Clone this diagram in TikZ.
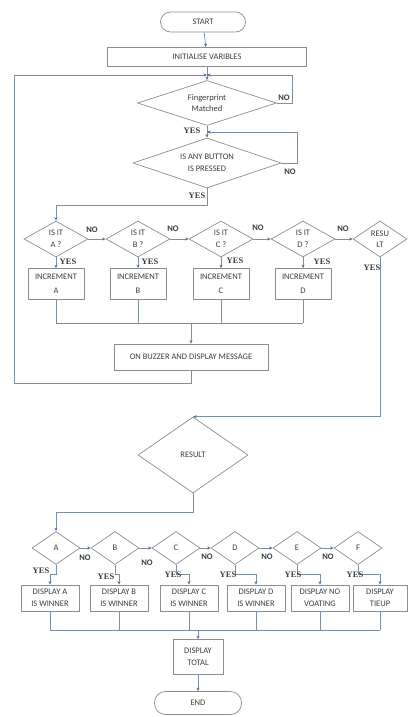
\documentclass[tikz,border=0pt]{standalone}
\usepackage{fontspec}
\setmainfont{Carlito}
\newfontfamily\yesfont{Liberation Serif}
\usetikzlibrary{shapes.geometric, arrows.meta, positioning, calc}
\definecolor{edgegray}{HTML}{8E8E8E}
\definecolor{linkblue}{HTML}{7F8FA2}
\definecolor{tipblue}{HTML}{4A6FA5}
\definecolor{txtgray}{HTML}{3C3C3C}

\begin{document}
\begin{tikzpicture}[x=1pt, y=-1pt,
  every node/.style={text=txtgray, font=\fontsize{8.5}{11.5}\selectfont},
  startstop/.style={draw=edgegray, line width=0.7pt, rounded corners=10pt, inner sep=0pt},
  process/.style={draw=edgegray, line width=0.7pt, align=center, inner sep=0pt},
  decision/.style={diamond, draw=edgegray, line width=0.7pt, aspect=2, inner sep=0pt, align=center},
  link/.style={draw=linkblue, line width=0.7pt},
  arr/.style={link, -{Stealth[length=3.5pt, width=3pt, color=tipblue]}},
  yeslbl/.style={font=\yesfont\bfseries\fontsize{8.5}{10}\selectfont, inner sep=0pt},
  nolbl/.style={font=\bfseries\fontsize{8.5}{10}\selectfont, inner sep=0pt}
]
\useasboundingbox (0,0) rectangle (407,717);

% voting part
\node[startstop, minimum width=85pt, minimum height=20pt] (start) at (203,22) {START};
\node[process, minimum width=199pt, minimum height=19pt] (init) at (207,57) {INITIALISE VARIBLES};
\coordinate (j1) at (207,75);
\node[decision, minimum width=139pt, minimum height=45pt] (finger) at (207,103) {Fingerprint\\Matched};
\coordinate (j2) at (207,132);
\node[decision, minimum width=148pt, minimum height=50pt] (button) at (207,163) {IS ANY BUTTON\\IS PRESSED};

\node[decision, minimum width=64pt, minimum height=36pt] (isA) at (56,239) {IS IT\\A ?};
\node[decision, minimum width=64pt, minimum height=36pt] (isB) at (138,239) {IS IT\\B ?};
\node[decision, minimum width=64pt, minimum height=36pt] (isC) at (221,239) {IS IT\\C ?};
\node[decision, minimum width=64pt, minimum height=36pt] (isD) at (303,239) {IS IT\\D ?};
\node[decision, minimum width=54pt, minimum height=36pt] (resu) at (380,239) {RESU\\LT};

\node[process, minimum width=56pt, minimum height=31pt, font=\fontsize{8.5}{14}\selectfont] (incA) at (56,284) {INCREMENT\\A};
\node[process, minimum width=56pt, minimum height=31pt, font=\fontsize{8.5}{14}\selectfont] (incB) at (138,284) {INCREMENT\\B};
\node[process, minimum width=56pt, minimum height=31pt, font=\fontsize{8.5}{14}\selectfont] (incC) at (221,284) {INCREMENT\\C};
\node[process, minimum width=56pt, minimum height=31pt, font=\fontsize{8.5}{14}\selectfont] (incD) at (303,284) {INCREMENT\\D};
\coordinate (bus1) at (0,323);
\node[process, minimum width=154pt, minimum height=26pt] (buzzer) at (191,357) {ON BUZZER AND DISPLAY MESSAGE};
\coordinate (loopL) at (14,383);

% result part
\node[decision, minimum width=110pt, minimum height=76pt] (result) at (193,455) {RESULT};

\node[decision, minimum width=48pt, minimum height=33pt] (dA) at (56,548) {A};
\node[decision, minimum width=48pt, minimum height=33pt] (dB) at (115,548) {B};
\node[decision, minimum width=48pt, minimum height=33pt] (dC) at (176,548) {C};
\node[decision, minimum width=48pt, minimum height=33pt] (dD) at (235,548) {D};
\node[decision, minimum width=48pt, minimum height=33pt] (dE) at (297,548) {E};
\node[decision, minimum width=48pt, minimum height=33pt] (dF) at (358,548) {F};

\node[process, minimum width=58pt, minimum height=26pt] (winA) at (50,598) {DISPLAY A\\IS WINNER};
\node[process, minimum width=58pt, minimum height=26pt] (winB) at (119,598) {DISPLAY B\\IS WINNER};
\node[process, minimum width=58pt, minimum height=26pt] (winC) at (189,598) {DISPLAY C\\IS WINNER};
\node[process, minimum width=58pt, minimum height=26pt] (winD) at (256,598) {DISPLAY D\\IS WINNER};
\node[process, minimum width=58pt, minimum height=26pt] (winE) at (320,598) {DISPLAY NO\\VOATING};
\node[process, minimum width=54pt, minimum height=26pt] (winF) at (380,598) {DISPLAY\\TIEUP};
\coordinate (bus2) at (0,630);
\node[process, minimum width=50pt, minimum height=35pt] (total) at (198,657) {DISPLAY\\TOTAL};
\node[startstop, minimum width=87pt, minimum height=23pt, rounded corners=11pt] (theend) at (198,703) {END};

% connectors, top
\draw[arr] (start) -- (init);
\draw[arr] (init) -- (finger);
\draw[arr] (finger.east) -- ++(15,0) |- (j1);
\draw[arr] (finger) -- (button);
\draw[arr] (button.east) -- ++(16,0) |- (j2);
\draw[arr] (button.south) -- ++(0,17) -| (isA.north);
\foreach \a/\b in {isA/isB, isB/isC, isC/isD, isD/resu}
  \draw[arr] (\a.east) -- (\b.west);
\foreach \d in {A, B, C, D}{
  \draw[arr] (is\d.south) -- (inc\d.north);
  \draw[link] (inc\d.south) -- (inc\d.south |- bus1);
}
\draw[link] (incA.south |- bus1) -- (incD.south |- bus1);
\draw[arr] (buzzer.north |- bus1) -- (buzzer.north);
\draw[arr] (buzzer.south) |- (loopL) |- (j1);
\draw[arr] (resu.south) |- (result.north);

% connectors, bottom
\draw[arr] (result.south) -- ++(0,19) -| (dA.north);
\foreach \a/\b in {dA/dB, dB/dC, dC/dD, dD/dE, dE/dF}
  \draw[arr] (\a.east) -- (\b.west);
\foreach \d in {A, B, C, D, E, F}{
  \draw[arr] (d\d.south) -- ++(0,9) -| (win\d.north);
  \draw[link] (win\d.south) -- (win\d.south |- bus2);
}
\draw[link] (winA.south |- bus2) -- (winF.south |- bus2);
\draw[arr] (total.north |- bus2) -- (total.north);
\draw[arr] (total) -- (theend);

% labels
\node[nolbl] (noF) at (284,98) {NO};
\node[yeslbl] (yesF) at (192,131) {YES};
\node[nolbl] (noB) at (290,172) {NO};
\node[yeslbl] (yesB) at (197,196) {YES};
\node[nolbl] (noA) at (92,230) {NO};
\node[nolbl] (noBB) at (173,229) {NO};
\node[nolbl] (noC) at (258,228) {NO};
\node[nolbl] (noD) at (343,229) {NO};
\node[yeslbl] (yesA) at (68,262) {YES};
\node[yeslbl] (yesBB) at (150,262) {YES};
\node[yeslbl] (yesC) at (235,261) {YES};
\node[yeslbl] (yesD) at (322,262) {YES};
\node[yeslbl] (yesR) at (372,268) {YES};
\node[nolbl] (noRA) at (85,558) {NO};
\node[nolbl] (noRB) at (147,563) {NO};
\node[nolbl] (noRC) at (207,557) {NO};
\node[nolbl] (noRD) at (267,557) {NO};
\node[nolbl] (noRE) at (328,557) {NO};
\node[yeslbl] (yesRA) at (41,571) {YES};
\node[yeslbl] (yesRB) at (106,577) {YES};
\node[yeslbl] (yesRC) at (173,575) {YES};
\node[yeslbl] (yesRD) at (228,575) {YES};
\node[yeslbl] (yesRE) at (293,575) {YES};
\node[yeslbl] (yesRF) at (355,575) {YES};
\end{tikzpicture}
\end{document}
